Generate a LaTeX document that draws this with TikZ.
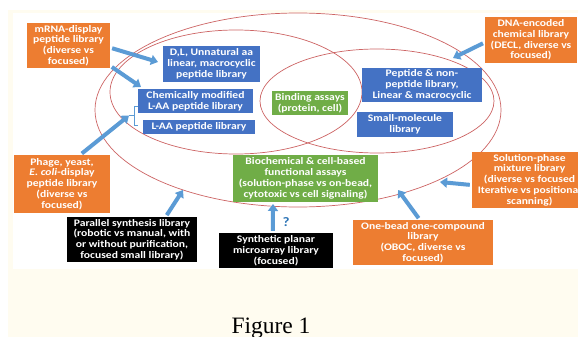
\documentclass[tikz,border=0pt]{standalone}
\usepackage{fontspec}
\newfontfamily\boxfont{Carlito}[FakeStretch=1.16]
\newfontfamily\capfont{Liberation Serif}
\usepackage{xcolor}
\usetikzlibrary{arrows.meta}

\definecolor{libblue}{RGB}{68,114,196}
\definecolor{liborange}{RGB}{237,125,49}
\definecolor{libgreen}{RGB}{112,173,71}
\definecolor{arrowblue}{RGB}{91,155,213}
\definecolor{qblue}{RGB}{46,117,182}
\definecolor{ringred}{RGB}{205,100,100}
\definecolor{paper}{RGB}{255,252,240}

\begin{document}
\begin{tikzpicture}[
  x=1pt, y=-1pt,
  every node/.style={anchor=center, align=center, inner sep=1pt, text=white,
    font=\boxfont\bfseries\fontsize{10}{10.8}\selectfont},
  wh/.style 2 args={minimum width=#1pt, minimum height=#2pt},
  orng/.style={fill=liborange}, blu/.style={fill=libblue},
  grn/.style={fill=libgreen}, blk/.style={fill=black},
  ring/.style={draw=ringred, line width=0.7pt},
  feed/.style={arrowblue, line width=4pt, shorten <=2pt,
    -{Triangle[length=7pt, width=10pt]}},
]
\useasboundingbox (0,0) rectangle (578,337);
\fill[white] (0,0) rectangle (578,337);
\fill[paper] (8,10) rectangle (578,337);
\fill[white] (13,13) rectangle (578,269);

% library groups
\draw[ring] (298,110) ellipse [x radius=203pt, y radius=97pt];
\draw[ring] (236,92) ellipse [x radius=126pt, y radius=62pt];
\draw[ring] (377,101) ellipse [x radius=117pt, y radius=52pt];

\node[orng, wh={83}{45}] (mrna) at (68.5,45.5) {mRNA-display\\peptide library\\(diverse vs\\focused)};
\node[orng, wh={92}{46}] (dna) at (531,40) {DNA-encoded\\chemical library\\(DECL, diverse vs\\focused)};
\node[blu, wh={97}{36}] (dl) at (211.5,64) {D,L, Unnatural aa\\linear, macrocyclic\\peptide library};
\node[blu, wh={115}{24}] (chem) at (195.5,101) {Chemically modified\\L-AA peptide library};
\node[blu, wh={112}{14}] (laa) at (199,127) {L-AA peptide library};
\node[grn, wh={76}{24}] (bind) at (310,103) {Binding assays\\(protein, cell)};
\node[blu, wh={120}{34}] (pep) at (422,85) {Peptide \& non-\\peptide library,\\Linear \& macrocyclic};
\node[blu, wh={96}{25}] (small) at (405,124.5) {Small-molecule\\library};
\node[grn, wh={145}{47}] (bio) at (305.5,178.5) {Biochemical \& cell-based\\functional assays\\(solution-phase vs on-bead,\\cytotoxic vs cell signaling)};
\node[orng, wh={96}{58}] (phage) at (62,184) {Phage, yeast,\\\textit{E. coli}-display\\peptide library\\(diverse vs\\focused)};
\node[blk, wh={130}{45}] (para) at (132,239.5) {Parallel synthesis library\\(robotic vs manual, with\\or without purification,\\focused small library)};
\node[blk, wh={114}{35}] (synth) at (276,250.5) {Synthetic planar\\microarray library\\(focused)};
\node[orng, wh={140}{45}] (oboc) at (423,242.5) {One-bead one-compound\\library\\(OBOC, diverse vs\\focused)};
\node[orng, wh={115}{56}] (sol) at (529.5,180) {Solution-phase\\mixture library\\(diverse vs focused\\Iterative vs positional\\scanning)};
\node[text=qblue, font=\boxfont\bfseries\fontsize{13}{14}\selectfont] (qm) at (286,222) {?};

% bracket over the two L-AA boxes
\draw[arrowblue, line width=1pt] (138,106) -- (134,106) -- (134,125) -- (138,125);
\draw[arrowblue, line width=1pt] (134,115.5) -- (129,115.5);
\coordinate (brace) at (129,115.5);

\coordinate (t-dl) at (158,62);
\coordinate (t-chem) at (141,87);
\coordinate (t-dna) at (453,58);
\coordinate (t-sol) at (440,182);
\coordinate (t-oboc) at (398,190);
\coordinate (t-synth) at (273,204);
\coordinate (t-para) at (183,190);
\foreach \a/\b in {mrna.357/t-dl, mrna.334/t-chem, dna.183/t-dna,
  sol.185/t-sol, oboc.98/t-oboc, synth.100/t-synth, para.34/t-para,
  phage.58/brace}
  \draw[feed] (\a) -- (\b);

\node[text=black, anchor=base, font=\capfont\fontsize{23.5}{26}\selectfont] (cap) at (271,333) {Figure 1};
\end{tikzpicture}
\end{document}
